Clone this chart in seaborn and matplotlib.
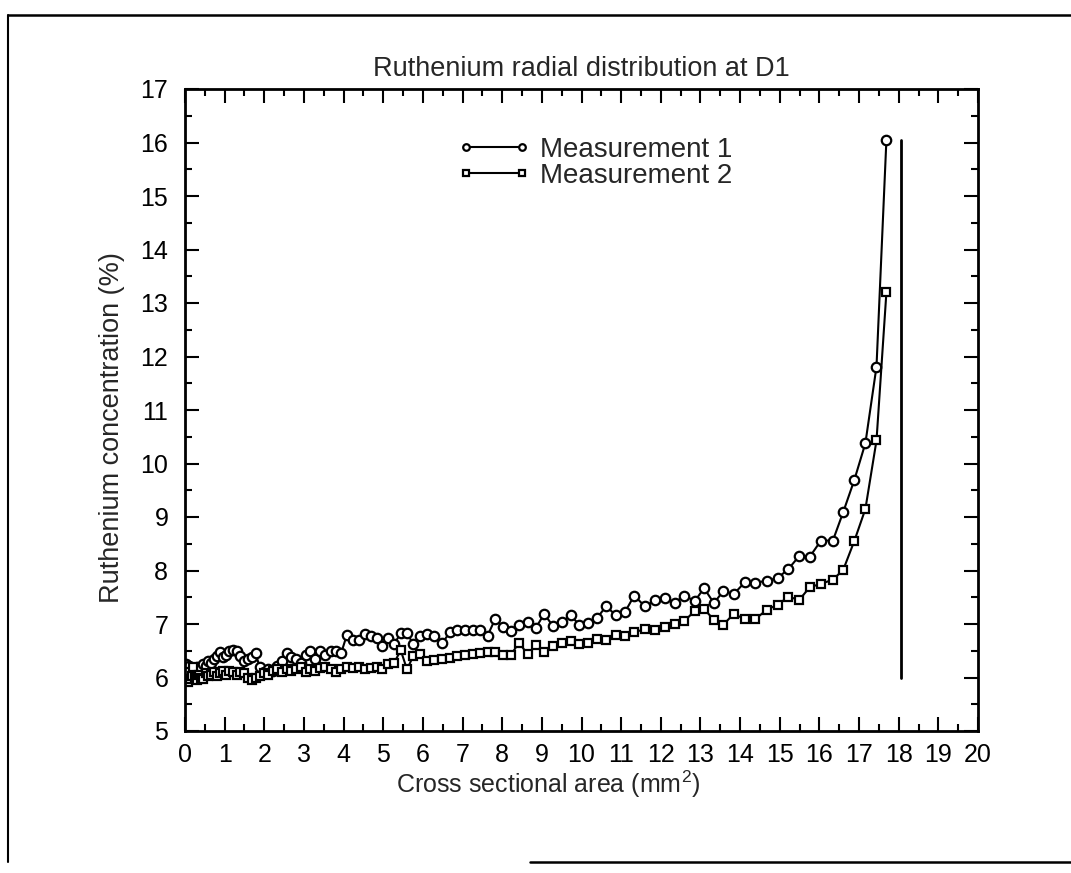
import numpy as np
import pandas as pd
import matplotlib
matplotlib.use("Agg")
import matplotlib.pyplot as plt
from matplotlib.lines import Line2D
from matplotlib.ticker import MultipleLocator
import seaborn as sns

# ---------------- data ----------------
area = [0.02, 0.04, 0.07, 0.10, 0.13, 0.17, 0.21, 0.25, 0.30, 0.35, 0.40, 0.46, 0.52, 0.58, 0.65, 0.72, 0.80, 0.88, 0.96,
        1.04, 1.12, 1.21, 1.30, 1.39, 1.48, 1.58, 1.68, 1.78, 1.88, 1.99,
        2.10, 2.21, 2.32, 2.44, 2.56, 2.68, 2.80, 2.92,
        3.04, 3.16, 3.28, 3.41, 3.54, 3.67, 3.80, 3.94,
        4.08, 4.23, 4.38, 4.53, 4.68, 4.83, 4.98,
        5.13, 5.28, 5.44, 5.60, 5.76, 5.93,
        6.10, 6.29, 6.49, 6.68, 6.87,
        7.06, 7.26, 7.44, 7.63, 7.82, 8.03, 8.22, 8.42, 8.64, 8.85, 9.06, 9.27, 9.50, 9.73, 9.94,
        10.17, 10.40, 10.62, 10.86, 11.10, 11.33, 11.60, 11.85, 12.11, 12.36, 12.59, 12.86, 13.09, 13.34, 13.58, 13.84,
        14.12, 14.38, 14.68, 14.95, 15.22, 15.49, 15.76, 16.04, 16.34, 16.60, 16.88, 17.16, 17.44, 17.69]

measurement_1 = [6.25, 6.18, 6.05, 6.22, 6.10, 6.02, 6.15, 6.08, 6.20, 6.12, 6.18, 6.25, 6.22, 6.30, 6.28, 6.35, 6.40, 6.47, 6.38,
                 6.42, 6.50, 6.52, 6.50, 6.40, 6.30, 6.35, 6.38, 6.46, 6.20, 6.10,
                 6.15, 6.12, 6.22, 6.30, 6.45, 6.38, 6.35, 6.28,
                 6.42, 6.50, 6.35, 6.50, 6.42, 6.50, 6.50, 6.46,
                 6.79, 6.70, 6.70, 6.82, 6.78, 6.73, 6.59,
                 6.74, 6.63, 6.83, 6.83, 6.62, 6.77,
                 6.82, 6.77, 6.64, 6.85, 6.89,
                 6.88, 6.88, 6.88, 6.78, 7.09, 6.94, 6.87, 6.99, 7.04, 6.93, 7.19, 6.97, 7.03, 7.17, 6.98,
                 7.02, 7.12, 7.33, 7.17, 7.23, 7.53, 7.33, 7.44, 7.48, 7.40, 7.53, 7.43, 7.67, 7.39, 7.62, 7.56,
                 7.78, 7.77, 7.81, 7.86, 8.03, 8.27, 8.26, 8.56, 8.56, 9.09, 9.69, 10.38, 11.81, 16.05]

measurement_2 = [5.95, 6.05, 5.92, 6.10, 5.98, 6.02, 6.20, 6.00, 5.95, 6.05, 6.00, 5.98, 6.08, 6.02, 6.05, 6.10, 6.02, 6.08, 6.12,
                 6.05, 6.12, 6.10, 6.05, 6.10, 6.08, 6.00, 5.95, 6.00, 6.02, 6.08,
                 6.05, 6.12, 6.15, 6.10, 6.15, 6.12, 6.15, 6.20,
                 6.10, 6.15, 6.12, 6.18, 6.20, 6.15, 6.10, 6.15,
                 6.20, 6.18, 6.20, 6.15, 6.18, 6.20, 6.15,
                 6.25, 6.28, 6.51, 6.15, 6.41, 6.44,
                 6.30, 6.32, 6.35, 6.37, 6.40,
                 6.42, 6.43, 6.45, 6.47, 6.47, 6.42, 6.42, 6.65, 6.44, 6.60, 6.47, 6.59, 6.64, 6.68, 6.62,
                 6.65, 6.72, 6.70, 6.80, 6.78, 6.85, 6.90, 6.88, 6.95, 7.00, 7.05, 7.25, 7.28, 7.08, 6.99, 7.19,
                 7.09, 7.09, 7.27, 7.36, 7.51, 7.45, 7.69, 7.75, 7.83, 8.01, 8.55, 9.15, 10.43, 13.20]

edge_x = [18.05, 18.05]
edge_y = [6.0, 16.05]

series_labels = ["Measurement 1", "Measurement 2"]
x_ticks = list(range(0, 21))
y_ticks = list(range(5, 18))

title = "Ruthenium radial distribution at D1"
x_label = "Cross sectional area (mm$^2$)"
y_label = "Ruthenium concentration (%)"

# ---------------- styling ----------------
sns.set_style("ticks")
plt.rcParams["font.family"] = ["Liberation Sans", "DejaVu Sans"]
plt.rcParams["mathtext.fontset"] = "custom"
plt.rcParams["mathtext.rm"] = "Liberation Sans"

W, H = 1071, 873
fig = plt.figure(figsize=(W / 100, H / 100), dpi=100)
fig.patch.set_facecolor("white")
ax = fig.add_axes([185 / W, 1 - 731 / H, 793 / W, 642 / H])

df = pd.DataFrame({"area": area, "m1": measurement_1, "m2": measurement_2})

common = dict(color="black", linewidth=1.5, markersize=6.8, markerfacecolor="white",
              markeredgecolor="black", markeredgewidth=1.6, sort=False)
sns.lineplot(data=df, x="area", y="m1", marker="o", label=series_labels[0], ax=ax, **common)
sns.lineplot(data=df, x="area", y="m2", marker="s", label=series_labels[1], ax=ax,
             **{**common, "markersize": 6.0})

ax.plot(edge_x, edge_y, color="black", linewidth=2.0)

ax.set_xlim(x_ticks[0], x_ticks[-1])
ax.set_ylim(y_ticks[0], y_ticks[-1])
ax.set_xticks(x_ticks)
ax.set_yticks(y_ticks)
ax.xaxis.set_minor_locator(MultipleLocator(0.5))
ax.yaxis.set_minor_locator(MultipleLocator(0.5))
ax.tick_params(which="both", direction="in", top=True, right=True, width=1.5, colors="black")
ax.tick_params(which="major", length=10, labelsize=18)
ax.tick_params(which="minor", length=5)
ax.tick_params(axis="x", which="major", pad=9)
ax.tick_params(axis="y", which="major", pad=12)
for s in ax.spines.values():
    s.set_visible(True)
    s.set_linewidth(2.0)
    s.set_color("black")

ax.set_title(title, fontsize=19.5, pad=9)
ax.set_xlabel(x_label, fontsize=18)
ax.set_ylabel(y_label, fontsize=19.5)
ax.xaxis.set_label_coords(0.458, -0.058)
ax.yaxis.set_label_coords(-0.076, 0.472)

leg = ax.legend(loc="upper left", bbox_to_anchor=(0.344, 0.925), frameon=False, fontsize=20,
                handlelength=2.6, numpoints=2, markerscale=0.7, borderpad=0, borderaxespad=0,
                labelspacing=0.0, handletextpad=0.35)

# outer page border (as in the scanned reference)
fig.add_artist(Line2D([8 / W, 1.0], [1 - 15 / H, 1 - 15 / H], transform=fig.transFigure, color="black", lw=1.8))
fig.add_artist(Line2D([8 / W, 8 / W], [1 - 15 / H, 1 - 862 / H], transform=fig.transFigure, color="black", lw=1.5))
fig.add_artist(Line2D([530 / W, 1.0], [1 - 862 / H, 1 - 862 / H], transform=fig.transFigure, color="black", lw=1.8))

fig.savefig("out.png", dpi=100, facecolor="white")
